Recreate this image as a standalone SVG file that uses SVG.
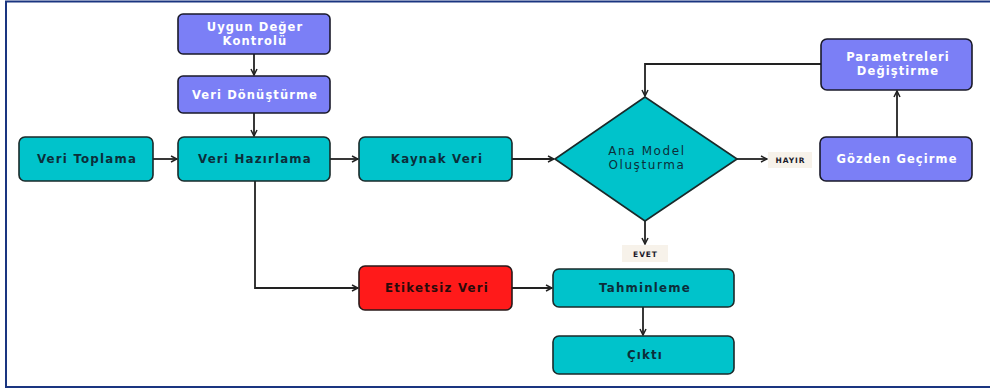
<svg xmlns="http://www.w3.org/2000/svg" width="990" height="389" viewBox="0 0 990 389">
<defs>
<style>
.t{fill:#00c3cb;stroke:#1a2a2a;stroke-width:1.6}
.p{fill:#7b7ff6;stroke:#1a1a2a;stroke-width:1.6}
.r{fill:#ff1a1a;stroke:#2a1a1a;stroke-width:1.6}
.lbl{fill:#f7f2ea}
.dk{font-family:"DejaVu Sans","Liberation Sans",sans-serif;font-size:11.8px;font-weight:700;fill:#0c2e3a;text-anchor:middle;letter-spacing:1.2px}
.wh{font-family:"DejaVu Sans","Liberation Sans",sans-serif;font-size:11.5px;font-weight:700;fill:#ffffff;text-anchor:middle;letter-spacing:1.1px}
.dm{font-family:"DejaVu Sans","Liberation Sans",sans-serif;font-size:12px;font-weight:400;fill:#0c2e3a;text-anchor:middle;letter-spacing:1.6px}
.sm{font-family:"DejaVu Sans","Liberation Sans",sans-serif;font-size:7.5px;font-weight:700;fill:#1a1a2a;text-anchor:middle;letter-spacing:0.9px}
.c{fill:none;stroke:#222;stroke-width:1.8}
</style>
<marker id="a" markerWidth="8" markerHeight="8" refX="7" refY="4" orient="auto" markerUnits="userSpaceOnUse">
<path d="M1,1 L7,4 L1,7" fill="none" stroke="#222" stroke-width="1.5"/>
</marker>
</defs>
<rect x="0" y="0" width="990" height="389" fill="#ffffff"/>
<rect x="6" y="1.5" width="990" height="385.5" fill="none" stroke="#1a3580" stroke-width="2"/>

<g id="connectors">
<path class="c" d="M254,54 V75" marker-end="url(#a)"/>
<path class="c" d="M254,113 V136" marker-end="url(#a)"/>
<path class="c" d="M153,159 H177" marker-end="url(#a)"/>
<path class="c" d="M330,159 H358" marker-end="url(#a)"/>
<path class="c" d="M512,159 H554" marker-end="url(#a)"/>
<path class="c" d="M737,159 H767" marker-end="url(#a)"/>
<path class="c" d="M897,137 V91" marker-end="url(#a)"/>
<path class="c" d="M821,64 H645 V96" marker-end="url(#a)"/>
<path class="c" d="M645,220 V244" marker-end="url(#a)"/>
<path class="c" d="M255,181 V288 H358" marker-end="url(#a)"/>
<path class="c" d="M512,288 H552" marker-end="url(#a)"/>
<path class="c" d="M643,307 V335" marker-end="url(#a)"/>
<g id="lbl-hayir"><rect class="lbl" x="768" y="152" width="44" height="16"/><text class="sm" x="790.5" y="163">HAYIR</text></g>
<g id="lbl-evet"><rect class="lbl" x="622" y="245" width="46" height="17"/><text class="sm" x="645.5" y="256.5">EVET</text></g>
</g>

<g id="n-uygun"><rect class="p" x="178" y="14" width="152" height="40" rx="5"/><text class="wh" x="255" y="31">Uygun Değer</text><text class="wh" x="255" y="45">Kontrolü</text></g>
<g id="n-donusturme"><rect class="p" x="178" y="76" width="152" height="37" rx="5"/><text class="wh" x="255" y="99">Veri Dönüştürme</text></g>
<g id="n-toplama"><rect class="t" x="19" y="137" width="134" height="44" rx="6"/><text class="dk" x="87" y="163">Veri Toplama</text></g>
<g id="n-hazirlama"><rect class="t" x="178" y="137" width="152" height="44" rx="6"/><text class="dk" x="255" y="163">Veri Hazırlama</text></g>
<g id="n-kaynak"><rect class="t" x="359" y="137" width="153" height="44" rx="6"/><text class="dk" x="437" y="163">Kaynak Veri</text></g>
<g id="n-ana"><path class="t" d="M645,97 L737,159 L645,221 L555,159 Z" stroke-linejoin="round"/><text class="dm" x="647" y="155">Ana Model</text><text class="dm" x="647" y="169">Oluşturma</text></g>
<g id="n-gozden"><rect class="p" x="820" y="137" width="152" height="44" rx="6"/><text class="wh" x="897" y="163">Gözden Geçirme</text></g>
<g id="n-param"><rect class="p" x="821" y="39" width="151" height="51" rx="6"/><text class="wh" x="898" y="61">Parametreleri</text><text class="wh" x="898" y="75">Değiştirme</text></g>
<g id="n-etiketsiz"><rect class="r" x="359" y="266" width="153" height="44" rx="6"/><text class="dk" x="437" y="292" style="fill:#2a0a0a">Etiketsiz Veri</text></g>
<g id="n-tahmin"><rect class="t" x="553" y="269" width="181" height="38" rx="6"/><text class="dk" x="645" y="292">Tahminleme</text></g>
<g id="n-cikti"><rect class="t" x="553" y="336" width="181" height="38" rx="6"/><text class="dk" x="645" y="359">Çıktı</text></g>
</svg>
